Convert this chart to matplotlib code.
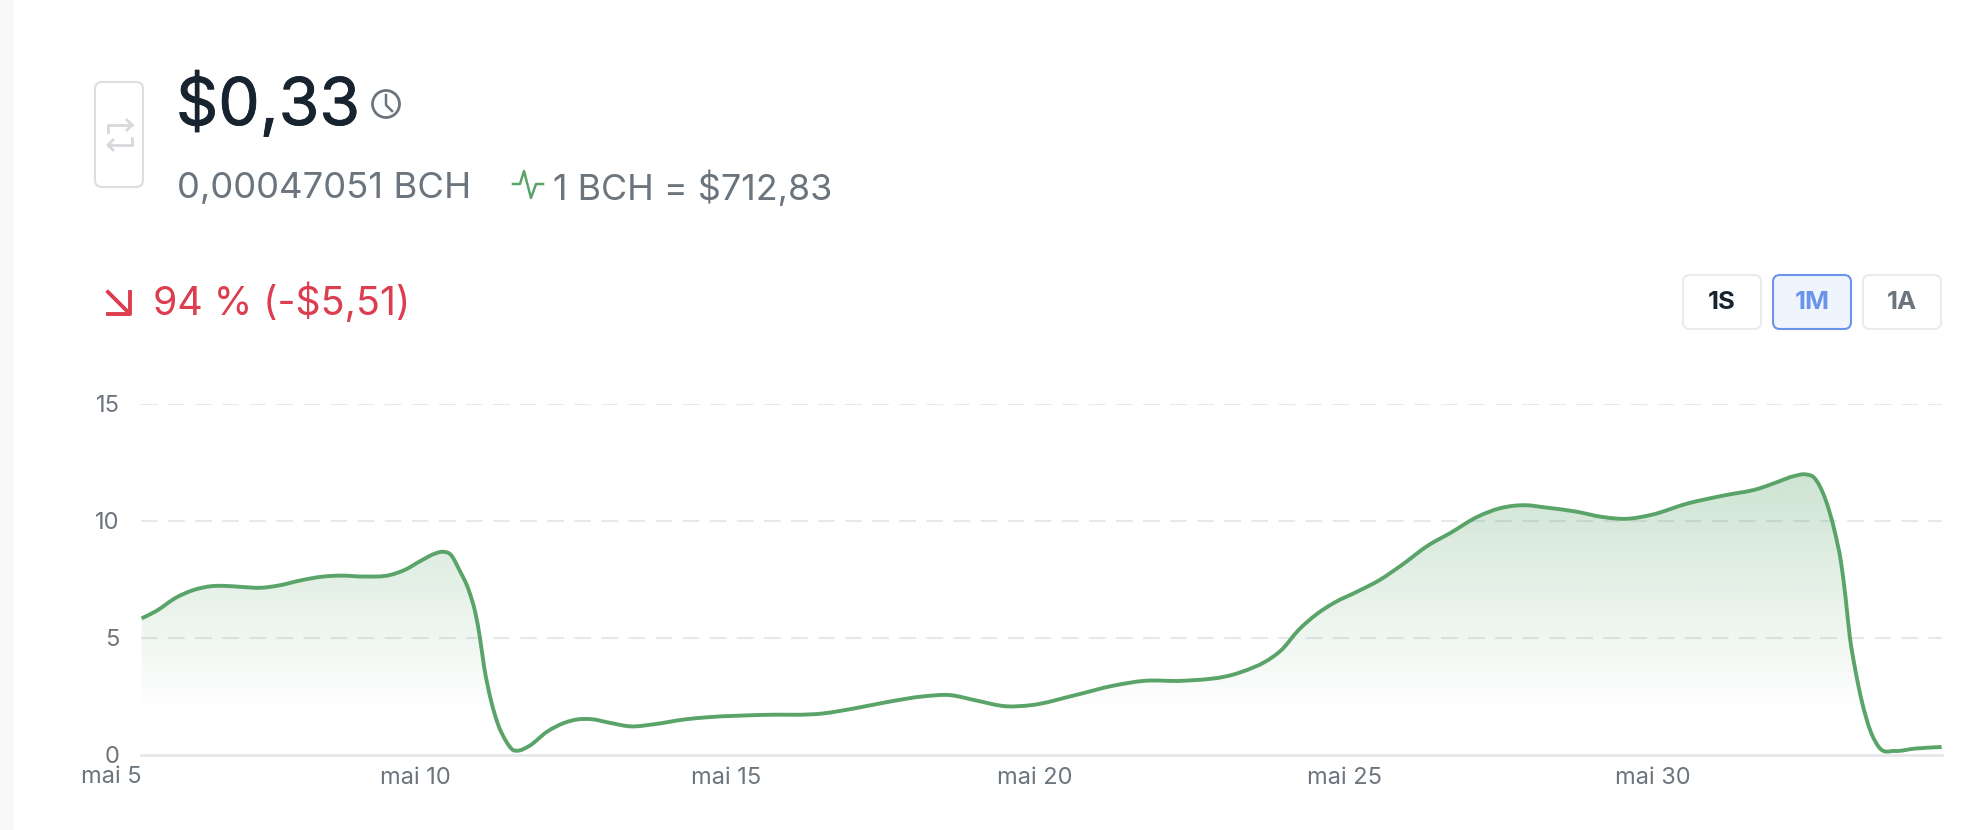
import numpy as np
import matplotlib
matplotlib.use("Agg")
import matplotlib.pyplot as plt
import matplotlib.patheffects as pe
from matplotlib.patches import FancyBboxPatch, Circle, Rectangle, PathPatch
from matplotlib.path import Path

plt.rcParams['font.family'] = ['Inter', 'DejaVu Sans']

# values
days = [5.56, 5.80, 6.12, 6.41, 6.70, 6.92, 7.21, 7.50, 7.79, 8.15, 8.51, 8.80, 9.17, 9.60, 9.82,
        10.11, 10.32, 10.45, 10.58, 10.72, 10.87, 10.98, 11.05, 11.12, 11.23, 11.34, 11.48, 11.59, 11.66, 11.85,
        12.14, 12.43, 12.64, 12.86, 13.15, 13.51, 13.87, 14.38, 14.74, 15.60,
        16.64, 17.15, 17.66, 18.27, 18.68, 19.09, 19.60, 20.00, 20.72, 21.33, 21.84, 22.45, 23.37,
        23.91, 24.06, 24.34, 24.63, 24.92, 25.29, 25.65, 26.01, 26.45, 26.81, 27.24, 27.61, 28.04, 28.33, 28.84,
        29.27, 29.67, 30.07, 30.65, 31.23, 31.81, 32.10, 32.39, 32.57, 32.71, 32.90, 33.04, 33.15, 33.22, 33.29,
        33.37, 33.48, 33.62, 33.77, 34.02, 34.34, 34.78]
prices = [5.83, 6.15, 6.72, 7.05, 7.21, 7.22, 7.17, 7.14, 7.24, 7.46, 7.62, 7.66, 7.62, 7.69, 7.89,
          8.32, 8.60, 8.68, 8.55, 7.89, 7.04, 6.04, 5.04, 3.76, 2.34, 1.34, 0.56, 0.20, 0.17, 0.37,
          0.98, 1.37, 1.51, 1.52, 1.37, 1.21, 1.30, 1.51, 1.60, 1.70,
          1.77, 1.99, 2.25, 2.50, 2.55, 2.33, 2.07, 2.12, 2.55, 2.95, 3.16, 3.16, 3.50,
          4.16, 4.47, 5.33, 6.00, 6.50, 6.97, 7.46, 8.10, 8.96, 9.49, 10.17, 10.54, 10.67, 10.58, 10.40,
          10.17, 10.09, 10.26, 10.74, 11.08, 11.38, 11.65, 11.92, 11.99, 11.85, 10.88, 9.60, 8.18, 6.75, 5.04,
          3.76, 2.34, 1.05, 0.30, 0.16, 0.26, 0.33]
y_ticks = [0, 5, 10, 15]
x_ticks = [10, 15.05, 20.06, 25.08, 30.10]
x_labels = ['mai 10', 'mai 15', 'mai 20', 'mai 25', 'mai 30']

green = '#5aa469'
grey = '#6c757d'
dark = '#17242f'
red = '#dc3d4f'
blue = '#6a93ea'

W, H = 1972, 830
fig = plt.figure(figsize=(W / 100, H / 100), dpi=100, facecolor='white')

# page furniture is laid out in pixels
page = fig.add_axes([0, 0, 1, 1])
page.set_xlim(0, W)
page.set_ylim(H, 0)
page.axis('off')
page.add_patch(Rectangle((0, 0), 14, H, color='#f8f8f9', lw=0))

# swap button
page.add_patch(FancyBboxPatch((95, 82), 48, 105, boxstyle='round,pad=0,rounding_size=7',
                              fc='white', ec='#dcdee2', lw=1.5))
page.plot([108, 108, 132], [132, 125, 125], color='#d6d8dc', lw=2)
page.plot([127, 132, 127], [120, 125, 130], color='#d6d8dc', lw=2)
page.plot([132, 132, 108], [138, 145, 145], color='#d6d8dc', lw=2)
page.plot([113, 108, 113], [140, 145, 150], color='#d6d8dc', lw=2)

heavy = [pe.withStroke(linewidth=0.6, foreground=dark)]
page.text(176, 105, '$0,33', fontsize=47.4, color=dark, va='center', ha='left', path_effects=heavy)

# clock
page.add_patch(Circle((386, 104), 13.5, fc='none', ec=grey, lw=2))
page.plot([386, 386, 392], [95, 105, 111], color=grey, lw=1.8)

page.text(177, 189, '0,00047051 BCH', fontsize=26.3, color=grey, va='center', ha='left')
page.plot([513, 520, 524, 531, 536, 539, 543], [184, 184, 171, 198, 184, 184, 184], color=green, lw=1.8)
page.text(553, 189, '1 BCH = $712,83', fontsize=25.8, color=grey, va='center', ha='left')

# down arrow + change
page.plot([108, 129], [292, 313], color=red, lw=2.8)
page.plot([108, 130, 130], [314, 314, 292], color=red, lw=2.8)
page.text(153, 303, '94 % (-$5,51)', fontsize=28.3, color=red, va='center', ha='left')

# range buttons
buttons = [('1S', 1683, dark, 'white', '#e9ecef'),
           ('1M', 1773, blue, '#eff4fd', blue),
           ('1A', 1863, grey, 'white', '#e9ecef')]
for label, bx, tc, fc, ec in buttons:
    page.add_patch(FancyBboxPatch((bx, 275), 78, 54, boxstyle='round,pad=0,rounding_size=7',
                                  fc=fc, ec=ec, lw=1.5))
    page.text(bx + 39, 302, label, fontsize=18.5, fontweight='bold', color=tc, va='center', ha='center')

# chart
left, right, top, bottom = 141, 1941.6, 404, 754.7
ax = fig.add_axes([left / W, 1 - bottom / H, (right - left) / W, (bottom - top) / H])
ax.patch.set_alpha(0)
for s in ax.spines.values():
    s.set_visible(False)

ax.set_yticks(y_ticks)
ax.set_xticks(x_ticks, x_labels)
ax.tick_params(axis='both', length=0, labelsize=17, labelcolor=grey)
ax.tick_params(axis='y', pad=15.5)
ax.tick_params(axis='x', pad=8.5)
ax.text(5.06, -22 / 23.38, 'mai 5', fontsize=17, color=grey, ha='center', va='center')

for v in y_ticks[1:]:
    ax.axhline(v, color='#e6e8ea', lw=1.5, dashes=(8, 5), zorder=1)
ax.axhline(0, color='#e6e7e9', lw=2, zorder=1, clip_on=False)

# smooth curve through the read points (cubic hermite segments)
xs = np.array(days)
ys = np.array(prices)
slopes = np.gradient(ys, xs)
verts = [(xs[0], ys[0])]
codes = [Path.MOVETO]
for i in range(len(xs) - 1):
    h = xs[i + 1] - xs[i]
    verts += [(xs[i] + h / 3, ys[i] + slopes[i] * h / 3),
              (xs[i + 1] - h / 3, ys[i + 1] - slopes[i + 1] * h / 3),
              (xs[i + 1], ys[i + 1])]
    codes += [Path.CURVE4] * 3
curve = Path(verts, codes)
area = Path(verts + [(xs[-1], 0), (xs[0], 0), (xs[0], ys[0])],
            codes + [Path.LINETO, Path.LINETO, Path.CLOSEPOLY])

# area fill, fades out towards the bottom
grad = np.zeros((256, 2, 4))
grad[..., 0], grad[..., 1], grad[..., 2] = matplotlib.colors.to_rgb(green)
grad[:, :, 3] = np.linspace(0, 0.30, 256)[:, None]
img = ax.imshow(grad, extent=(5.55, 34.78, 1.8, 12), origin='lower', aspect='auto', zorder=2)
img.set_clip_path(area, ax.transData)

ax.add_patch(PathPatch(curve, fc='none', ec=green, lw=2.8, zorder=3, joinstyle='round', capstyle='butt'))
ax.set_xlim(5.55, 34.78)
ax.set_ylim(0, 15)

fig.savefig('out.png', dpi=100)
